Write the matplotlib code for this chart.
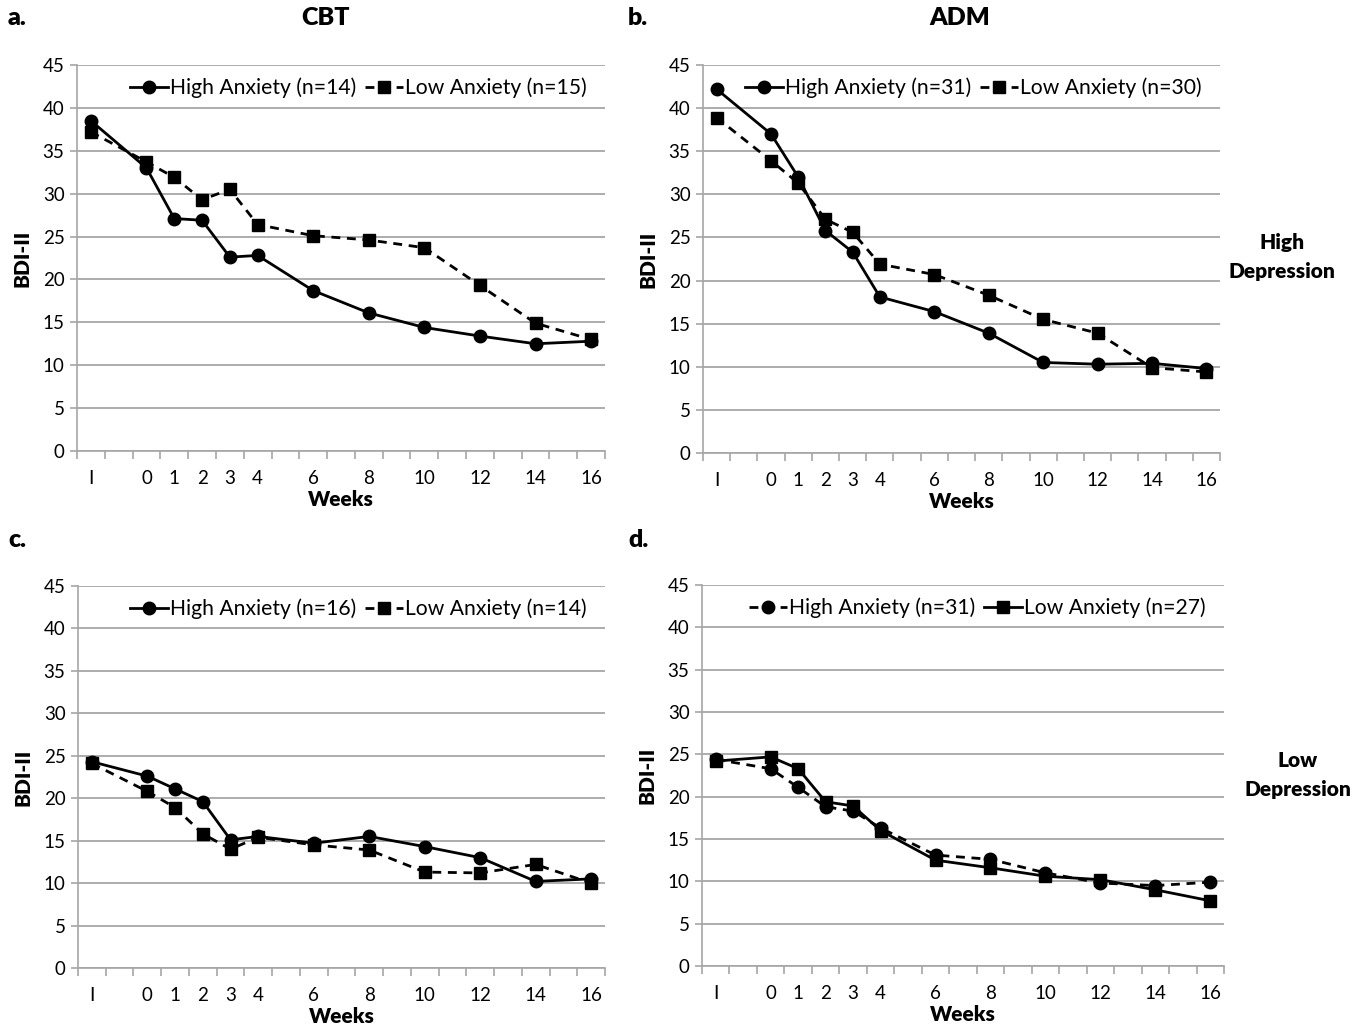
import numpy as np
import matplotlib
matplotlib.use("Agg")
import matplotlib.pyplot as plt

plt.rcParams['font.family'] = ['Lato', 'DejaVu Sans']

# weeks measured; "I" = intake
week_labels = ["I", "0", "1", "2", "3", "4", "6", "8", "10", "12", "14", "16"]
weeks = [-2, 0, 1, 2, 3, 4, 6, 8, 10, 12, 14, 16]

# a. CBT, high depression
cbt_hd_high = [38.5, 33.0, 27.1, 26.9, 22.6, 22.8, 18.7, 16.1, 14.4, 13.4, 12.5, 12.8]
cbt_hd_low = [37.2, 33.7, 31.9, 29.3, 30.5, 26.4, 25.1, 24.6, 23.7, 19.3, 14.9, 13.0]
# b. ADM, high depression
adm_hd_high = [42.2, 37.0, 32.0, 25.8, 23.3, 18.1, 16.4, 13.9, 10.5, 10.3, 10.4, 9.8]
adm_hd_low = [38.9, 33.9, 31.3, 27.1, 25.6, 21.9, 20.7, 18.3, 15.5, 13.9, 9.9, 9.4]
# c. CBT, low depression
cbt_ld_high = [24.3, 22.6, 21.1, 19.6, 15.1, 15.5, 14.7, 15.5, 14.3, 13.0, 10.2, 10.5]
cbt_ld_low = [24.1, 20.8, 18.9, 15.8, 14.0, 15.4, 14.5, 13.9, 11.3, 11.2, 12.2, 10.0]
# d. ADM, low depression
adm_ld_high = [24.4, 23.3, 21.1, 18.8, 18.3, 16.3, 13.1, 12.6, 11.0, 9.8, 9.5, 9.9]
adm_ld_low = [24.2, 24.7, 23.3, 19.4, 18.9, 16.0, 12.5, 11.6, 10.6, 10.2, 9.0, 7.7]

n_labels = {
    'a': ("High Anxiety (n=14)", "Low Anxiety (n=15)"),
    'b': ("High Anxiety (n=31)", "Low Anxiety (n=30)"),
    'c': ("High Anxiety (n=16)", "Low Anxiety (n=14)"),
    'd': ("High Anxiety (n=31)", "Low Anxiety (n=27)"),
}

fig = plt.figure(figsize=(13.72, 10.34), dpi=100)

boxes = {
    'a': [77 / 1372, 1 - 451 / 1034, 528 / 1372, 386 / 1034],
    'b': [703 / 1372, 1 - 453 / 1034, 517 / 1372, 388 / 1034],
    'c': [78 / 1372, 1 - 968 / 1034, 527 / 1372, 382 / 1034],
    'd': [702 / 1372, 1 - 966 / 1034, 522 / 1372, 381 / 1034],
}

pos = np.array(weeks) + 2  # category slots on the Excel-style axis
dash = (0, (3.2, 2.4))
grid_c = '#a6a6a6'


def panel(key, high, low, high_dashed=False):
    ax = fig.add_axes(boxes[key])
    hs = dash if high_dashed else '-'
    ls = '-' if high_dashed else dash
    ax.plot(pos, high, color='black', lw=2.0, ls=hs, marker='o', ms=9,
            label=n_labels[key][0], zorder=3)
    ax.plot(pos, low, color='black', lw=2.0, ls=ls, marker='s', ms=9,
            label=n_labels[key][1], zorder=3)
    ax.set_xlim(-0.5, 18.5)
    ax.set_ylim(0, 45)
    ax.set_yticks(np.arange(0, 46, 5))
    ax.yaxis.grid(True, color=grid_c, lw=1.3)
    ax.set_axisbelow(True)
    ax.set_xticks(pos)
    ax.set_xticklabels(week_labels)
    ax.set_xticks(np.arange(-0.5, 18.6, 1), minor=True)
    ax.tick_params(axis='x', which='major', length=0, pad=14, labelsize=13.5)
    ax.tick_params(axis='x', which='minor', length=6, color=grid_c, width=1.2)
    ax.tick_params(axis='y', length=5, color=grid_c, width=1.2, labelsize=13.5, pad=4)
    for s in ['top', 'right']:
        ax.spines[s].set_visible(False)
    for s in ['left', 'bottom']:
        ax.spines[s].set_color(grid_c)
        ax.spines[s].set_linewidth(1.2)
    ax.set_xlabel("Weeks", fontsize=15, fontweight='heavy', labelpad=2)
    ax.set_ylabel("BDI-II", fontsize=15, fontweight='heavy', labelpad=8)
    ax.legend(loc='upper right', ncol=2, frameon=False, fontsize=15.2,
              handlelength=1.8, handletextpad=0.1, columnspacing=0.4,
              borderaxespad=0.1, bbox_to_anchor=(0.985, 0.995))
    return ax


panel('a', cbt_hd_high, cbt_hd_low)
panel('b', adm_hd_high, adm_hd_low)
panel('c', cbt_ld_high, cbt_ld_low)
panel('d', adm_ld_high, adm_ld_low, high_dashed=True)

fs_title = 18
fig.text(8 / 1372, 1 - 18 / 1034, "a.", fontsize=fs_title, fontweight='heavy', va='center')
fig.text(628 / 1372, 1 - 18 / 1034, "b.", fontsize=fs_title, fontweight='heavy', va='center')
fig.text(8 / 1372, 1 - 540 / 1034, "c.", fontsize=fs_title, fontweight='heavy', va='center')
fig.text(628 / 1372, 1 - 540 / 1034, "d.", fontsize=fs_title, fontweight='heavy', va='center')
fig.text(326 / 1372, 1 - 18 / 1034, "CBT", fontsize=fs_title, fontweight='heavy', ha='center', va='center')
fig.text(960 / 1372, 1 - 18 / 1034, "ADM", fontsize=fs_title, fontweight='heavy', ha='center', va='center')
fig.text(1282 / 1372, 1 - 257 / 1034, "High\nDepression", fontsize=15, fontweight='heavy',
         ha='center', va='center', linespacing=1.6)
fig.text(1298 / 1372, 1 - 775 / 1034, "Low\nDepression", fontsize=15, fontweight='heavy',
         ha='center', va='center', linespacing=1.6)

fig.savefig("out.png", dpi=100)
